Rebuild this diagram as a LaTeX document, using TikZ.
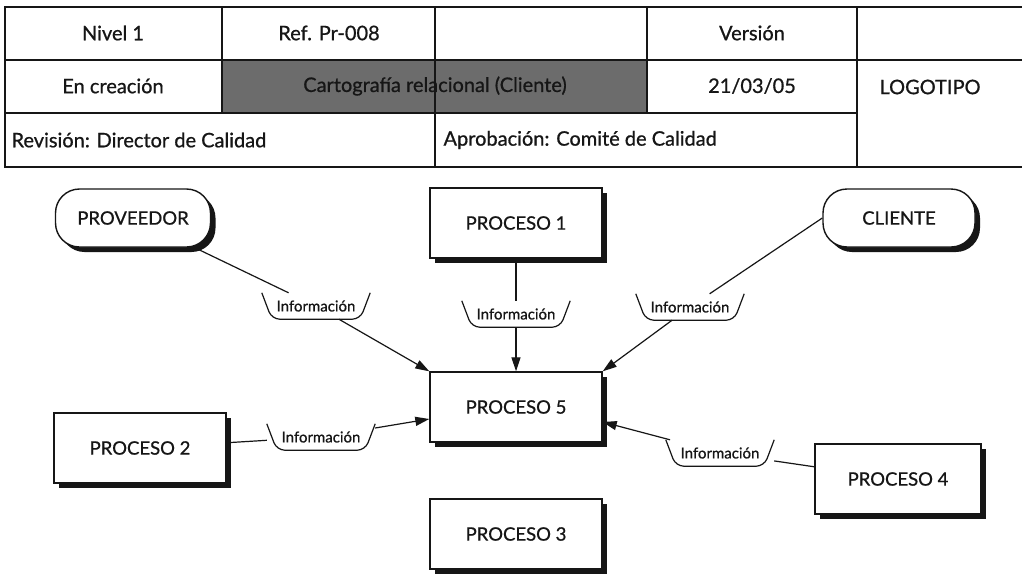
\documentclass[tikz,border=0pt]{standalone}
\usepackage{fontspec}
\setmainfont{Lato}[FakeBold=0.8]
\usepackage{tikz}
\usetikzlibrary{arrows.meta,shadows}
\definecolor{Ink}{HTML}{161616}
\definecolor{Shade}{HTML}{6C6C6C}
\tikzset{
  procbox/.style={draw=Ink,line width=1.4pt,fill=white,minimum width=172pt,minimum height=70pt,font=\fontsize{18.5}{20}\selectfont,text=Ink,drop shadow={shadow xshift=5pt,shadow yshift=-5pt,fill=Ink,opacity=1}},
  extbox/.style={procbox,rounded corners=24pt,minimum width=155pt,minimum height=58pt},
  infobox/.style={minimum width=108pt,minimum height=26pt,inner sep=0pt,font=\fontsize{15}{16}\selectfont,text=Ink},
  bracket/.style={draw=Ink,line width=1.2pt,rounded corners=8pt},
  link/.style={draw=Ink,line width=1.2pt},
  arrow/.style={link,-{Triangle[length=14pt,width=9pt]}},
  cell/.style={font=\fontsize{20}{22}\selectfont,text=Ink},
  tableline/.style={draw=Ink,line width=1.6pt}
}
\begin{document}
\begin{tikzpicture}[x=1pt,y=1pt]
\useasboundingbox[fill=white] (0,0) rectangle (1022,-573);
% ficha de cabecera
\fill[Shade] (222,-60) rectangle (647,-113);
\draw[tableline] (1022,-7) -- (5,-7) -- (5,-167) -- (1022,-167);
\draw[tableline] (5,-60) -- (1022,-60) (5,-113) -- (857,-113);
\draw[tableline] (222,-7) -- (222,-113) (435,-7) -- (435,-167) (647,-7) -- (647,-113) (857,-7) -- (857,-167);
\node[cell] (nivel) at (113,-33) {Nivel 1};
\node[cell] (ref) at (329,-33) {Ref. Pr-008};
\node[cell] (version) at (752,-33) {Versión};
\node[cell] (estado) at (113,-86) {En creación};
\node[cell] (titulo) at (435,-86) {Cartografía relacional (Cliente)};
\node[cell] (fecha) at (752,-86) {21/03/05};
\node[cell] (logo) at (930,-87) {LOGOTIPO};
\node[cell,anchor=west] (revision) at (8,-140) {Revisión: Director de Calidad};
\node[cell,anchor=west] (aprobacion) at (440,-140) {Aprobación: Comité de Calidad};
% mapa de procesos
\node[extbox] (prov) at (133,-218) {PROVEEDOR};
\node[procbox] (p1) at (516,-223) {PROCESO 1};
\node[extbox,minimum width=152pt] (cli) at (899,-218) {CLIENTE};
\node[procbox] (p5) at (516,-407) {PROCESO 5};
\node[procbox] (p2) at (140,-448) {PROCESO 2};
\node[procbox,minimum width=166pt] (p4) at (898,-479) {PROCESO 4};
\node[procbox] (p3) at (516,-534) {PROCESO 3};
\node[infobox] (i1) at (316,-306) {Información};
\node[infobox] (i2) at (516,-314) {Información};
\node[infobox] (i3) at (690,-307) {Información};
\node[infobox] (i4) at (321,-437) {Información};
\node[infobox] (i5) at (720,-453) {Información};
\foreach \i in {i1,i2,i3,i4,i5}
  \draw[bracket] (\i.north west) -- ([xshift=10pt]\i.south west) -- ([xshift=-10pt]\i.south east) -- (\i.north east);
\draw[link] (prov) -- (i1); \draw[arrow] (i1) -- (p5.north west);
\draw[link] (p1) -- (i2); \draw[arrow] (i2) -- (p5);
\draw[link] (cli.west) -- (i3); \draw[arrow] (i3) -- (p5.north east);
\draw[link] (p2) -- (i4); \draw[arrow] (i4) -- ([yshift=-12pt]p5.west);
\draw[link] (p4) -- (i5); \draw[arrow] (i5) -- ([yshift=-15pt]p5.east);
\end{tikzpicture}
\end{document}
